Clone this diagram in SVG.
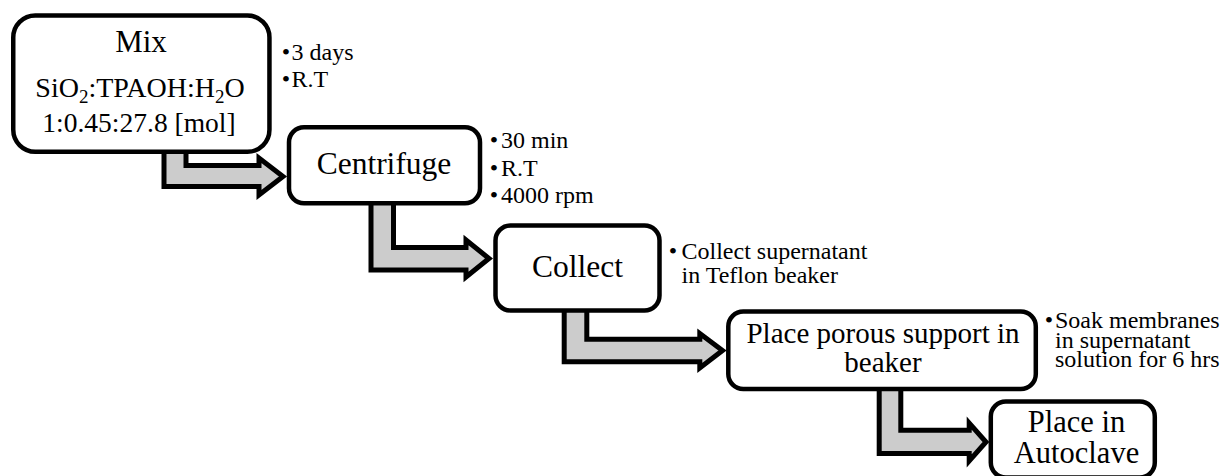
<svg xmlns="http://www.w3.org/2000/svg" width="1222" height="476" viewBox="0 0 1222 476">
  <style>
    .box { fill: #ffffff; stroke: #000000; stroke-width: 4.5; }
    .flow { fill: #cccccc; stroke: #000000; stroke-width: 5; stroke-linejoin: miter; stroke-miterlimit: 10; }
    text { font-family: 'Liberation Serif', 'Times New Roman', Tinos, 'DejaVu Serif', serif; fill: #000000; }
    .label { text-anchor: middle; }
    .note { font-size: 24px; }
    .dot { text-anchor: middle; }
  </style>
  <rect x="0" y="0" width="1222" height="476" fill="#ffffff"/>

  <!-- thick elbow arrows between steps -->
  <g id="connectors">
    <polygon class="flow" points="164,150 164,186.5 259,186.5 259,195 283,176.5 259,158 259,165.5 186,165.5 186,150"/>
    <polygon class="flow" points="371,201 371,270 466,270 466,277 489,258.5 466,240 466,247.5 393.5,247.5 393.5,201"/>
    <polygon class="flow" points="564.2,309 564.2,361.8 699.8,361.8 699.8,368 722.5,350.5 699.8,333.5 699.8,339.2 586.8,339.2 586.8,309"/>
    <polygon class="flow" points="879.2,387 879.2,453.5 969.2,453.5 969.2,461 986,442 969.2,423 969.2,430.2 900.8,430.2 900.8,387"/>
  </g>

  <!-- step 1: mixing -->
  <g id="mix">
    <rect class="box" x="13.25" y="15.5" width="256.2" height="136.3" rx="22" ry="22"/>
    <text class="label" x="141" y="51.7" font-size="31">Mix</text>
    <text class="label" x="140" y="96.7" font-size="28">SiO<tspan font-size="19" dy="6">2</tspan><tspan dy="-6">:TPAOH:H</tspan><tspan font-size="19" dy="6">2</tspan><tspan dy="-6">O</tspan></text>
    <text class="label" x="139" y="131.5" font-size="27.5">1:0.45:27.8 [mol]</text>
    <text class="note"><tspan class="dot" x="286" y="60">•</tspan><tspan x="291.5" y="60">3 days</tspan><tspan class="dot" x="286" y="87.3">•</tspan><tspan x="291.5" y="87.3">R.T</tspan></text>
  </g>

  <!-- step 2: centrifuge -->
  <g id="centrifuge">
    <rect class="box" x="289" y="127.3" width="191" height="76" rx="15" ry="15"/>
    <text class="label" x="384" y="174" font-size="31.5">Centrifuge</text>
    <text class="note"><tspan class="dot" x="494" y="148.3">•</tspan><tspan x="501" y="148.3">30 min</tspan><tspan class="dot" x="494" y="175.7">•</tspan><tspan x="501" y="175.7">R.T</tspan><tspan class="dot" x="494" y="202.7">•</tspan><tspan x="501" y="202.7">4000 rpm</tspan></text>
  </g>

  <!-- step 3: collect -->
  <g id="collect">
    <rect class="box" x="495.5" y="225.5" width="164" height="85" rx="15" ry="15"/>
    <text class="label" x="577.5" y="276.7" font-size="31.5">Collect</text>
    <text class="note"><tspan class="dot" x="673" y="259.3">•</tspan><tspan x="681.5" y="259.3">Collect supernatant</tspan><tspan x="681.5" y="282.7">in Teflon beaker</tspan></text>
  </g>

  <!-- step 4: porous support -->
  <g id="place-support">
    <rect class="box" x="728.3" y="311.5" width="307.5" height="77.5" rx="15" ry="15"/>
    <text class="label" x="883" y="343.3" font-size="29">Place porous support in</text>
    <text class="label" x="883" y="371.7" font-size="29">beaker</text>
    <text class="note"><tspan class="dot" x="1049" y="328.3">•</tspan><tspan x="1055" y="328.3">Soak membranes</tspan><tspan x="1055" y="348.3">in supernatant</tspan><tspan x="1055" y="366.7">solution for 6 hrs</tspan></text>
  </g>

  <!-- step 5: autoclave (runs off the lower edge) -->
  <g id="autoclave">
    <rect class="box" x="990.8" y="401.5" width="164" height="76" rx="15" ry="15"/>
    <text class="label" x="1076.5" y="431.7" font-size="30.5">Place in</text>
    <text class="label" x="1076.5" y="463.3" font-size="30.5">Autoclave</text>
  </g>
</svg>
